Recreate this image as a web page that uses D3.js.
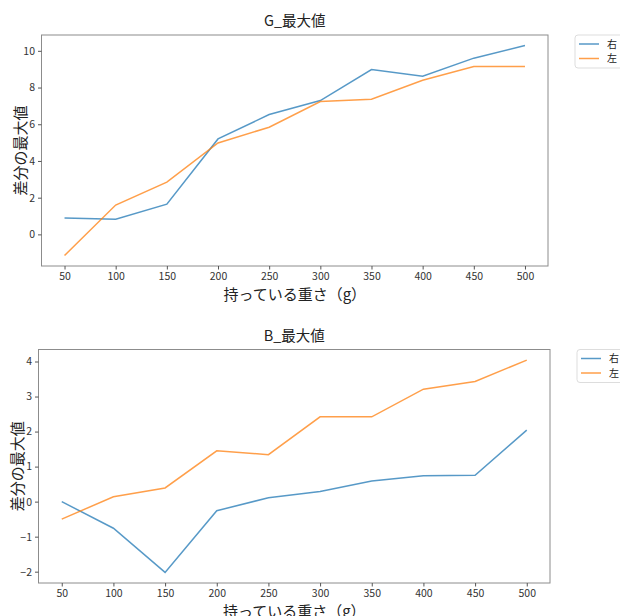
<!DOCTYPE html>
<html>
<head>
<meta charset="utf-8">
<script src="https://cdn.jsdelivr.net/npm/d3@7"></script>
<style>
  body { margin: 0; background: #fff; }
  svg text { font-family: "Noto Sans CJK JP", "Noto Sans", sans-serif; }
</style>
</head>
<body>
<svg id="chart" width="620" height="616"></svg>
<script>
// ── Data ─────────────────────────────────────────────
const weights = [50, 100, 150, 200, 250, 300, 350, 400, 450, 500];
const seriesNames = ['右', '左'];

const gRight = [0.89, 0.82, 1.65, 5.2, 6.53, 7.29, 8.98, 8.62, 9.6, 10.29];
const gLeft = [-1.15, 1.6, 2.85, 4.98, 5.84, 7.24, 7.36, 8.4, 9.15, 9.15];

const bRight = [0.0, -0.76, -2.02, -0.26, 0.11, 0.29, 0.59, 0.74, 0.75, 2.04];
const bLeft = [-0.5, 0.14, 0.39, 1.45, 1.34, 2.42, 2.42, 3.21, 3.43, 4.04];

const gTicks = [0, 2, 4, 6, 8, 10];
const bTicks = [-2, -1, 0, 1, 2, 3, 4];

const colors = ['#1f77b4', '#ff7f0e'];

const svg = d3.select('#chart');

// matplotlib style auto margins (5%)
function padded(ext) {
  const m = (ext[1] - ext[0]) * 0.05;
  return [ext[0] - m, ext[1] + m];
}

function drawPanel(opt) {
  const { left, right, top, bottom, title, series, yTicks } = opt;
  const g = svg.append('g');

  const x = d3.scaleLinear().domain(padded(d3.extent(weights))).range([left, right]);
  const allY = series.flat();
  const y = d3.scaleLinear().domain(padded(d3.extent(allY))).range([bottom, top]);

  // frame
  g.append('rect')
    .attr('x', left).attr('y', top)
    .attr('width', right - left).attr('height', bottom - top)
    .attr('fill', 'none').attr('stroke', '#8c8c8c').attr('stroke-width', 1);

  // axes
  const xAxis = g.append('g')
    .attr('transform', `translate(0,${bottom})`)
    .call(d3.axisBottom(x).tickValues(weights).tickSize(3.5).tickPadding(3));
  const yAxis = g.append('g')
    .attr('transform', `translate(${left},0)`)
    .call(d3.axisLeft(y).tickValues(yTicks).tickSize(3.5).tickPadding(3)
      .tickFormat(d => d < 0 ? '−' + Math.abs(d) : d));
  [xAxis, yAxis].forEach(a => {
    a.select('.domain').remove();
    a.selectAll('line').attr('stroke', '#555');
    a.selectAll('text').attr('font-size', 10.5).attr('fill', '#333');
  });

  // lines
  const line = d3.line()
    .x((d, i) => x(weights[i]))
    .y(d => y(d));
  series.forEach((s, k) => {
    g.append('path')
      .datum(s)
      .attr('d', line)
      .attr('fill', 'none')
      .attr('stroke', colors[k])
      .attr('stroke-opacity', 0.75)
      .attr('stroke-width', 1.5);
  });

  // title + labels
  g.append('text')
    .attr('x', (left + right) / 2).attr('y', top - 9)
    .attr('text-anchor', 'middle')
    .attr('font-size', 14.5).attr('fill', '#222')
    .text(title);
  g.append('text')
    .attr('x', (left + right) / 2).attr('y', bottom + 34)
    .attr('text-anchor', 'middle')
    .attr('font-size', 15).attr('fill', '#222')
    .text('持っている重さ（g）');
  g.append('text')
    .attr('transform', `translate(${left - 16},${(top + bottom) / 2}) rotate(-90)`)
    .attr('text-anchor', 'middle')
    .attr('font-size', 15).attr('fill', '#222')
    .text('差分の最大値');

  // legend
  const lg = g.append('g').attr('transform', `translate(${right + 27},${top})`);
  lg.append('rect')
    .attr('x', 0).attr('y', 0).attr('width', 50).attr('height', 33)
    .attr('rx', 3)
    .attr('fill', '#fff').attr('stroke', '#ddd');
  seriesNames.forEach((n, k) => {
    const yy = 9 + k * 14.5;
    lg.append('line')
      .attr('x1', 4).attr('x2', 24).attr('y1', yy).attr('y2', yy)
      .attr('stroke', colors[k]).attr('stroke-opacity', 0.75).attr('stroke-width', 1.5);
    lg.append('text')
      .attr('x', 32).attr('y', yy).attr('dy', '0.35em')
      .attr('font-size', 10).attr('fill', '#222')
      .text(n);
  });
}

drawPanel({ left: 41.5, right: 548, top: 35, bottom: 266, title: 'G_最大値', series: [gRight, gLeft], yTicks: gTicks });
drawPanel({ left: 38.5, right: 550, top: 349.5, bottom: 583, title: 'B_最大値', series: [bRight, bLeft], yTicks: bTicks });
</script>
</body>
</html>
